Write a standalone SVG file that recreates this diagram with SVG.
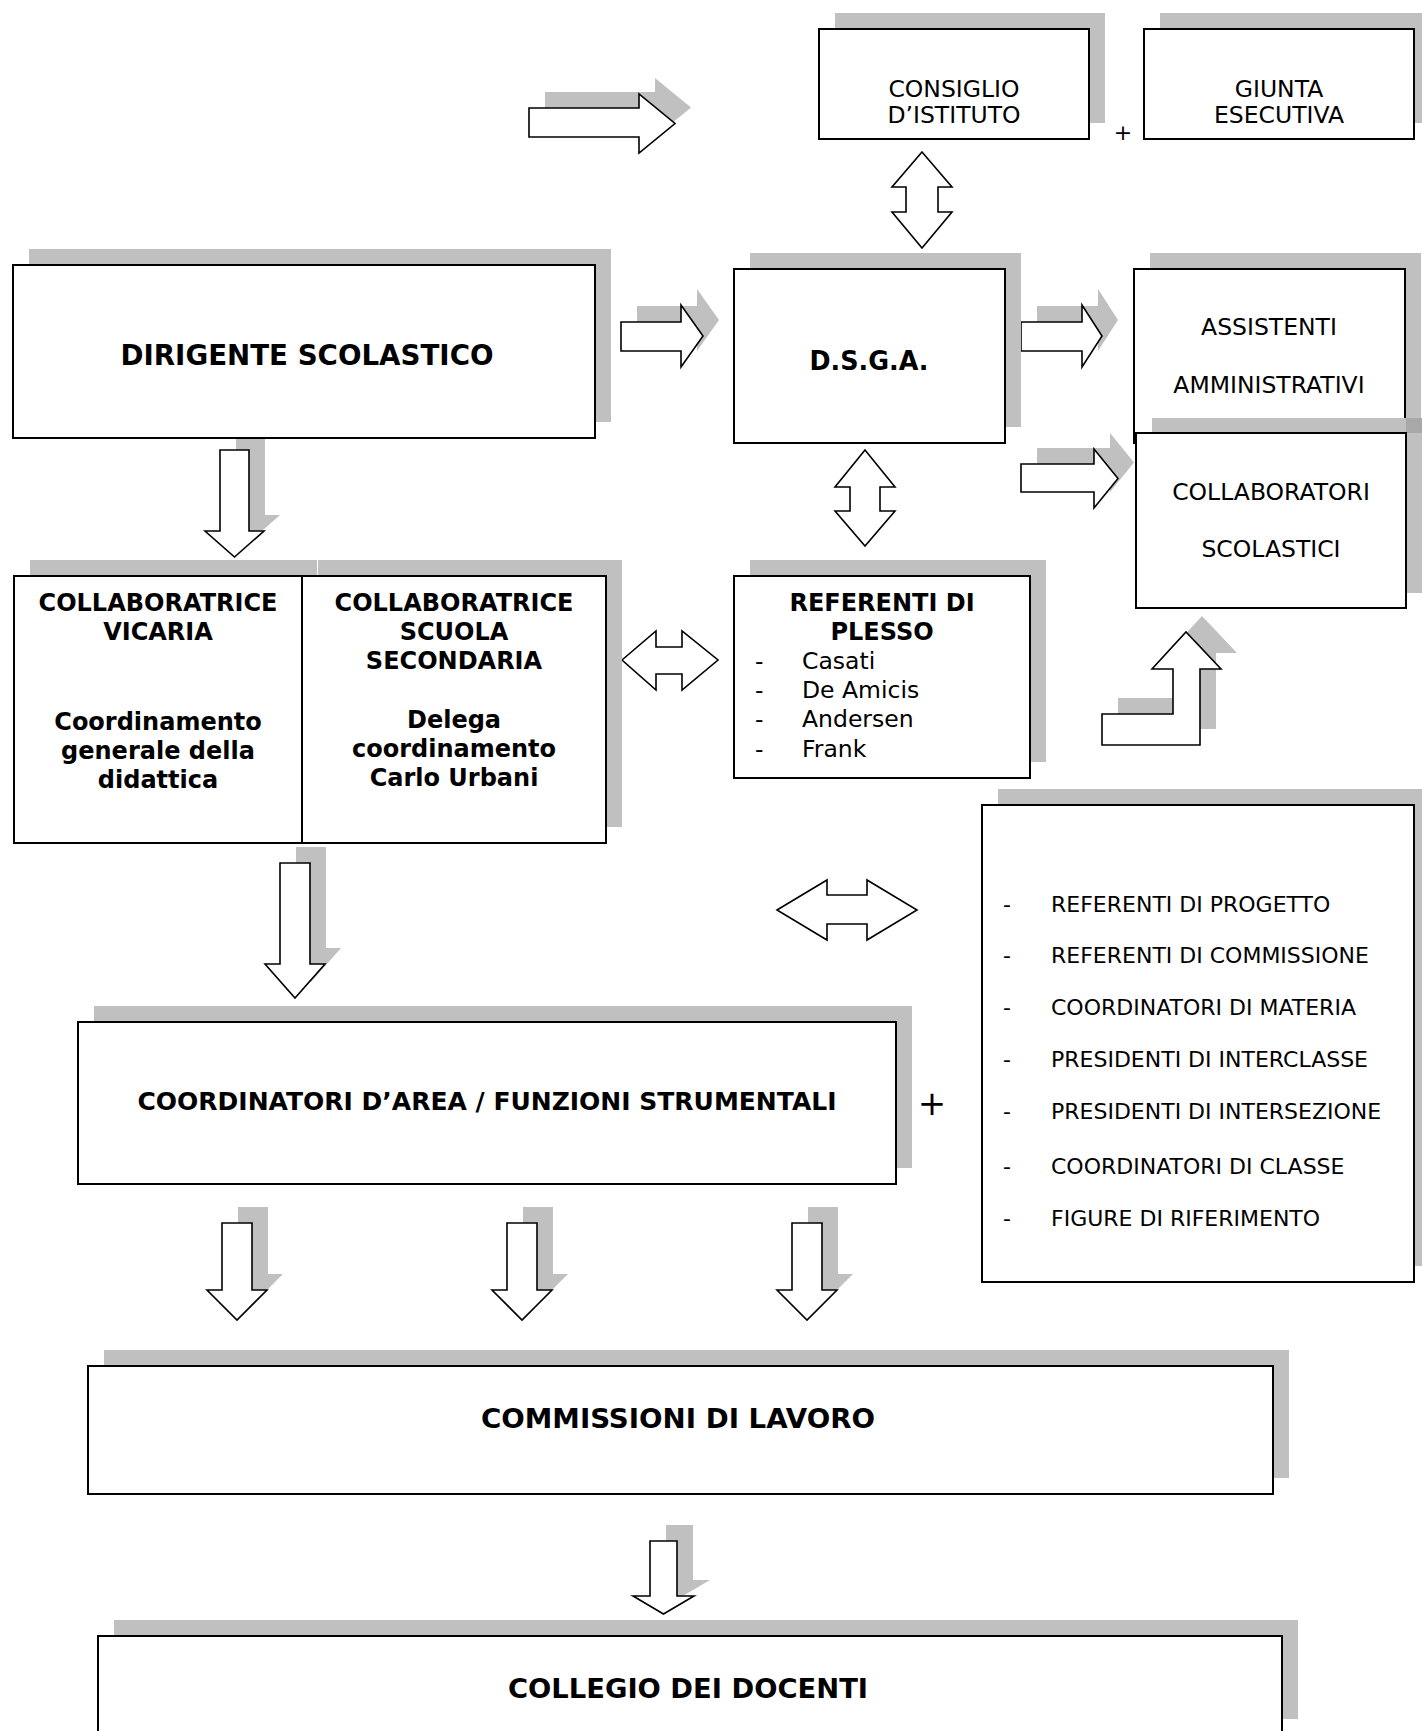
<svg xmlns="http://www.w3.org/2000/svg" xmlns:xlink="http://www.w3.org/1999/xlink" width="1422" height="1731" viewBox="0 0 1422 1731">
<style>
.box{fill:#fff;stroke:#000;stroke-width:2}
.sh{fill:#c0c0c0;stroke:none}
.arr{fill:#fff;stroke:#000;stroke-width:1.6;stroke-linejoin:miter}
.t{font-family:"DejaVu Sans",Verdana,sans-serif;font-size:23.5px;fill:#000}
.b{font-family:"DejaVu Sans",Verdana,sans-serif;font-size:24px;font-weight:bold;fill:#000}
.l{font-family:"DejaVu Sans",Verdana,sans-serif;font-size:22px;fill:#000}
.c{text-anchor:middle}
</style>
<defs>
<path id="a1" d="M529,108 H639 V94 L675,123.5 L639,153 V137 H529 Z"/>
<path id="a2" d="M621,322 H681 V305 L703,336 L681,367 V351 H621 Z"/>
<path id="a3" d="M1021,322 H1082 V305 L1102,336 L1082,367 V351 H1021 Z"/>
<path id="a4" d="M1021,464 H1094 V449 L1118,478.5 L1094,508 V492 H1021 Z"/>
<path id="v1" d="M220,450 H249 V531 H264 L234.5,557 L205,531 H220 Z"/>
<path id="v2" d="M280,863 H310 V964 H325 L295,998 L265,964 H280 Z"/>
<path id="v3" d="M222,1223 H252 V1290 H267 L237,1320 L207,1290 H222 Z"/>
<path id="v4" d="M507,1223 H537 V1290 H552 L522,1320 L492,1290 H507 Z"/>
<path id="v5" d="M792,1223 H822 V1290 H837 L807,1320 L777,1290 H792 Z"/>
<path id="v6" d="M650,1541 H677 V1596 H694 L663.5,1614 L633,1596 H650 Z"/>
<path id="bent" d="M1102,714 H1173 V669 H1152 L1186,632 L1221,669 H1200 V745 H1102 Z"/>
</defs>

<g id="connectors">
  <g class="sh" transform="translate(16,-16)">
    <use xlink:href="#a1"/><use xlink:href="#a2"/><use xlink:href="#a3"/><use xlink:href="#a4"/>
    <use xlink:href="#v1"/><use xlink:href="#v2"/><use xlink:href="#v3"/><use xlink:href="#v4"/>
    <use xlink:href="#v5"/><use xlink:href="#v6"/><use xlink:href="#bent"/>
  </g>
  <g class="arr">
    <use xlink:href="#a1"/><use xlink:href="#a2"/><use xlink:href="#a3"/><use xlink:href="#a4"/>
    <use xlink:href="#v1"/><use xlink:href="#v2"/><use xlink:href="#v3"/><use xlink:href="#v4"/>
    <use xlink:href="#v5"/><use xlink:href="#v6"/><use xlink:href="#bent"/>
    <path d="M922,152 L952,187 H938 V212 H952 L922,248 L892,212 H906 V187 H892 Z"/>
    <path d="M865,450 L895,487 H880 V511 H895 L865,546 L835,511 H850 V487 H835 Z"/>
    <path d="M622,660 L656,631 V647 H682 V631 L718,660 L682,690 V674 H656 V690 Z"/>
    <path d="M777,910 L827,880 V895 H867 V880 L917,910 L867,940 V924 H827 V940 Z"/>
  </g>
</g>

<g id="consiglio">
  <rect class="sh" x="835" y="13" width="270" height="110"/>
  <rect class="box" x="819" y="29" width="270" height="110"/>
  <text class="t c" x="954" y="97">CONSIGLIO</text>
  <text class="t c" x="954" y="123">D’ISTITUTO</text>
</g>
<text id="plus-top" class="t c" x="1123" y="140" style="font-size:22px">+</text>
<g id="giunta">
  <rect class="sh" x="1160" y="13" width="270" height="110"/>
  <rect class="box" x="1144" y="29" width="270" height="110"/>
  <text class="t c" x="1279" y="97">GIUNTA</text>
  <text class="t c" x="1279" y="123">ESECUTIVA</text>
</g>

<g id="dirigente">
  <rect class="sh" x="29" y="249" width="582" height="173"/>
  <rect class="box" x="13" y="265" width="582" height="173"/>
  <text class="b c" x="307" y="365" style="font-size:27.5px" textLength="373" lengthAdjust="spacingAndGlyphs">DIRIGENTE SCOLASTICO</text>
</g>

<g id="dsga">
  <rect class="sh" x="750" y="253" width="271" height="174"/>
  <rect class="box" x="734" y="269" width="271" height="174"/>
  <text class="b c" x="869" y="370" style="font-size:26px" textLength="119" lengthAdjust="spacingAndGlyphs">D.S.G.A.</text>
</g>

<g id="assistenti">
  <rect class="sh" x="1150" y="253" width="271" height="174"/>
  <rect class="box" x="1134" y="269" width="271" height="174"/>
  <text class="t c" x="1269" y="335">ASSISTENTI</text>
  <text class="t c" x="1269" y="393">AMMINISTRATIVI</text>
</g>

<g id="collaboratori">
  <rect class="sh" x="1152" y="418" width="270" height="175"/>
  <rect x="1406" y="418" width="16" height="15" fill="#a8a8a8"/>
  <rect class="box" x="1136" y="433" width="270" height="175"/>
  <text class="t c" x="1271" y="500">COLLABORATORI</text>
  <text class="t c" x="1271" y="557">SCOLASTICI</text>
</g>

<g id="collaboratrici">
  <rect class="sh" x="30" y="560" width="287" height="267"/>
  <rect class="sh" x="318" y="560" width="304" height="267"/>
  <rect class="box" x="14" y="576" width="288" height="267"/>
  <rect class="box" x="302" y="576" width="304" height="267"/>
  <text class="b c" x="158" y="611">COLLABORATRICE</text>
  <text class="b c" x="158" y="640">VICARIA</text>
  <text class="b c" x="158" y="730">Coordinamento</text>
  <text class="b c" x="158" y="759">generale della</text>
  <text class="b c" x="158" y="788">didattica</text>
  <text class="b c" x="454" y="611">COLLABORATRICE</text>
  <text class="b c" x="454" y="640">SCUOLA</text>
  <text class="b c" x="454" y="669">SECONDARIA</text>
  <text class="b c" x="454" y="728">Delega</text>
  <text class="b c" x="454" y="757">coordinamento</text>
  <text class="b c" x="454" y="786">Carlo Urbani</text>
</g>

<g id="referenti-plesso">
  <rect class="sh" x="750" y="560" width="296" height="202"/>
  <rect class="box" x="734" y="576" width="296" height="202"/>
  <text class="b c" x="882" y="611">REFERENTI DI</text>
  <text class="b c" x="882" y="640">PLESSO</text>
  <text class="t" x="755" y="669">-</text><text class="t" x="802" y="669">Casati</text>
  <text class="t" x="755" y="698">-</text><text class="t" x="802" y="698">De Amicis</text>
  <text class="t" x="755" y="727">-</text><text class="t" x="802" y="727">Andersen</text>
  <text class="t" x="755" y="757">-</text><text class="t" x="802" y="757">Frank</text>
</g>

<g id="figure">
  <rect class="sh" x="998" y="789" width="432" height="477"/>
  <rect class="box" x="982" y="805" width="432" height="477"/>
  <g class="l">
    <text x="1003" y="912">-</text><text x="1051" y="912">REFERENTI DI PROGETTO</text>
    <text x="1003" y="963">-</text><text x="1051" y="963">REFERENTI DI COMMISSIONE</text>
    <text x="1003" y="1015">-</text><text x="1051" y="1015">COORDINATORI DI MATERIA</text>
    <text x="1003" y="1067">-</text><text x="1051" y="1067">PRESIDENTI DI INTERCLASSE</text>
    <text x="1003" y="1119">-</text><text x="1051" y="1119">PRESIDENTI DI INTERSEZIONE</text>
    <text x="1003" y="1174">-</text><text x="1051" y="1174">COORDINATORI DI CLASSE</text>
    <text x="1003" y="1226">-</text><text x="1051" y="1226">FIGURE DI RIFERIMENTO</text>
  </g>
</g>

<g id="coordinatori">
  <rect class="sh" x="94" y="1006" width="818" height="162"/>
  <rect class="box" x="78" y="1022" width="818" height="162"/>
  <text class="b c" x="487" y="1110" textLength="699" lengthAdjust="spacingAndGlyphs">COORDINATORI D’AREA / FUNZIONI STRUMENTALI</text>
</g>
<text id="plus-mid" class="t c" x="932" y="1115" style="font-size:34px">+</text>

<g id="commissioni">
  <rect class="sh" x="104" y="1350" width="1185" height="128"/>
  <rect class="box" x="88" y="1366" width="1185" height="128"/>
  <text class="b c" x="678" y="1428" style="font-size:26px" textLength="394" lengthAdjust="spacingAndGlyphs">COMMISSIONI DI LAVORO</text>
</g>

<g id="collegio">
  <rect class="sh" x="114" y="1620" width="1184" height="99"/>
  <rect class="box" x="98" y="1636" width="1184" height="99"/>
  <text class="b c" x="688" y="1698" style="font-size:26px" textLength="360" lengthAdjust="spacingAndGlyphs">COLLEGIO DEI DOCENTI</text>
</g>
</svg>
